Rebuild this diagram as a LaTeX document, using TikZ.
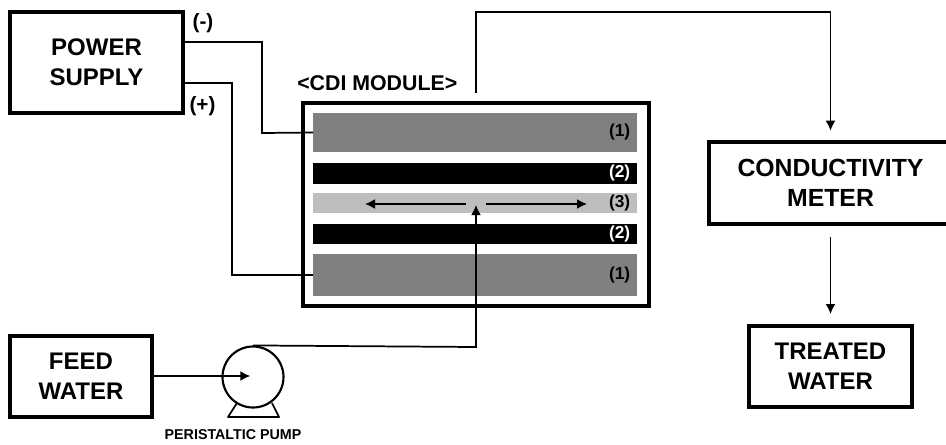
\documentclass[tikz,border=0pt]{standalone}
\usepackage{fontspec}
\setmainfont{Liberation Sans}
\usepackage{tikz}
\usetikzlibrary{arrows.meta,positioning,calc}
\definecolor{darklayer}{HTML}{808080}
\definecolor{lightlayer}{HTML}{BEBEBE}

\begin{document}
\begin{tikzpicture}[>={Latex[length=7.5pt,width=7.5pt]},x=0.75pt,y=-0.75pt]
\tikzstyle{unit}=[draw,line width=3pt,inner sep=0pt,align=center,font=\bfseries\fontsize{18}{22.5}\selectfont]
\tikzstyle{layer}=[inner sep=0pt,outer sep=0pt,minimum width=243pt,anchor=north]
\tikzstyle{tag}=[font=\bfseries\fontsize{13}{16}\selectfont]
\tikzstyle{wire}=[line width=1.3pt]
\useasboundingbox (0,0) rectangle (946,444);
\node[unit,minimum width=129.75pt,minimum height=75.75pt] (power) at (96.5,62.5) {POWER\\SUPPLY};
\node[unit,minimum width=106.5pt,minimum height=60.75pt] (feed) at (81,376.5) {FEED\\WATER};
\node[unit,minimum width=182pt,minimum height=61.5pt,font=\bfseries\fontsize{18.6}{22.5}\selectfont] (meter) at (830.5,183) {CONDUCTIVITY\\METER};
\node[unit,minimum width=122pt,minimum height=60.75pt] (treated) at (830.5,366.5) {TREATED\\WATER};
\node[draw,line width=2.8pt,minimum width=259pt,minimum height=152pt,inner sep=0pt] (module) at (476,204.5) {};
\node[font=\bfseries\fontsize{16}{19}\selectfont,anchor=base west,inner sep=0pt] (title) at (297,90.5) {<CDI MODULE>};
% layers of the module
\node[layer,fill=darklayer,minimum height=29.25pt] (top) at (475,113) {};
\node[layer,fill=black,minimum height=15.75pt,below=8.25pt of top] (mema) {};
\node[layer,fill=lightlayer,minimum height=15pt,below=6.75pt of mema] (spacer) {};
\node[layer,fill=black,minimum height=15pt,below=8.25pt of spacer] (memb) {};
\node[layer,fill=darklayer,minimum height=31.5pt,below=7.5pt of memb] (bottom) {};
\node[tag] at ([xshift=-13pt]top.east) {(1)};
\node[tag,text=white] at ([xshift=-13pt]mema.east) {(2)};
\node[tag] at ([xshift=-13pt]spacer.east) {(3)};
\node[tag,text=white] at ([xshift=-13pt]memb.east) {(2)};
\node[tag] at ([xshift=-13pt]bottom.east) {(1)};
% pump
\node[circle,draw,line width=1.6pt,minimum size=45.75pt,inner sep=0pt] (pump) at (253,377) {};
\draw[line width=1.3pt,line join=round] (237,403) -- (228,417) -- (279,417) -- (272,403);
\node[font=\bfseries\fontsize{10.7}{13}\selectfont] (pumplabel) at (233,435) {PERISTALTIC PUMP};
% polarity
\node[font=\bfseries\fontsize{15.5}{18}\selectfont] (minus) at (203,23) {(-)};
\node[font=\bfseries\fontsize{15.5}{18}\selectfont] (plus) at (202.5,106) {(+)};
% connectors
\coordinate (minusout) at (power.east |- 0,42);
\coordinate (plusout) at (power.east |- 0,83);
\coordinate (flowup) at (476,93);
\coordinate (flowin) at (476,205);
\coordinate (flowleft) at (466,204);
\coordinate (flowright) at (486,204);
\coordinate (flowleftend) at (365,204);
\coordinate (flowrightend) at (587,204);
\draw[wire] (minusout) -| (262,133) -- (top.west);
\draw[wire] (plusout) -| (232,275) -- (bottom.west);
\draw[wire,->] (feed.east |- 0,376) -- ([xshift=-2pt]pump.center |- 0,376);
\draw[wire,->] (pump.north) -- (476,347) -- (flowin);
\draw[wire,->,shorten >=7pt] (flowup) -- (476,12) -| (meter.north);
\draw[wire,->,shorten <=8pt,shorten >=7.5pt] (meter.south) -- (treated.north);
\draw[wire,->] (flowleft) -- (flowleftend);
\draw[wire,->] (flowright) -- (flowrightend);
\end{tikzpicture}
\end{document}
